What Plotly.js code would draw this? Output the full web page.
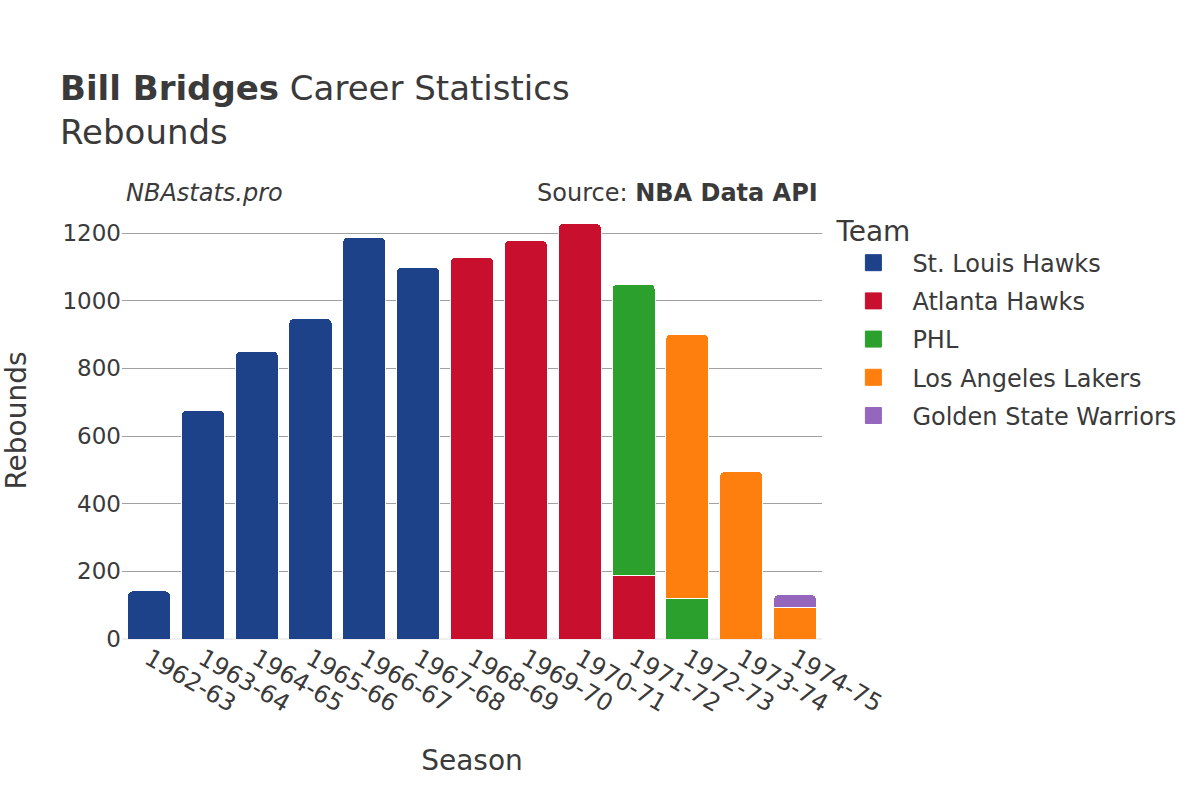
<!DOCTYPE html>
<html>
<head>
<meta charset="utf-8">
<script src="https://cdn.plot.ly/plotly-3.0.1.min.js"></script>
<style>html,body{margin:0;padding:0;background:#fff;}#chart{width:1200px;height:800px;}</style>
</head>
<body>
<div id="chart"></div>
<script>
const seasons = ["1962-63","1963-64","1964-65","1965-66","1966-67","1967-68","1968-69","1969-70","1970-71","1971-72","1972-73","1973-74","1974-75"];
const stlHawks = [142, 677, 851, 948, 1188, 1099, null, null, null, null, null, null, null];
const atlHawks = [null, null, null, null, null, null, 1128, 1178, 1229, 189, null, null, null];
const phl      = [null, null, null, null, null, null, null, null, null, 860, 121, null, null];
const lakers   = [null, null, null, null, null, null, null, null, null, null, 780, 495, 92];
const warriors = [null, null, null, null, null, null, null, null, null, null, null, null, 39];
const teamNames = ["St. Louis Hawks","Atlanta Hawks","PHL","Los Angeles Lakers","Golden State Warriors"];
const teamColors = ["#1d428a","#c8102e","#2ca02c","#ff7f0e","#9467bd"];
const teamValues = [stlHawks, atlHawks, phl, lakers, warriors];

const font = "DejaVu Sans, sans-serif";
const txt = "#3a3a3a";
const bars = teamNames.map((name, i) => ({
  type: "bar",
  name: name,
  legendgroup: name,
  showlegend: false,
  x: seasons,
  y: teamValues[i],
  marker: {color: teamColors[i], line: {color: "#ffffff", width: 1}},
  hovertemplate: "%{x}<br>%{y}<extra>" + name + "</extra>"
}));
// legend-only entries with larger square swatches
const legendEntries = teamNames.map((name, i) => ({
  type: "scatter",
  mode: "markers",
  name: name,
  legendgroup: name,
  x: [null], y: [null],
  marker: {symbol: "square", size: 21, color: teamColors[i], line: {color: teamColors[i], width: 1}},
  hoverinfo: "skip"
}));

const layout = {
  width: 1200, height: 800,
  barmode: "stack",
  bargap: 0.2,
  barcornerradius: 5,
  paper_bgcolor: "#fff", plot_bgcolor: "#fff",
  font: {family: font, color: txt, size: 20},
  margin: {l: 122, r: 378, t: 202, b: 161},
  title: {
    text: "<b>Bill Bridges</b> Career Statistics<br>Rebounds",
    x: 0.05, xanchor: "left", y: 0.875, yanchor: "top",
    font: {family: font, size: 34, color: txt}
  },
  xaxis: {
    title: {text: "Season", font: {size: 28, color: txt}, standoff: 33},
    tickangle: 30,
    tickfont: {size: 24, color: txt},
    showgrid: false,
    type: "category"
  },
  yaxis: {
    title: {text: "Rebounds", font: {size: 28, color: txt}, standoff: 30},
    tickfont: {size: 23, color: txt},
    gridcolor: "#a0a0a0",
    gridwidth: 1,
    zerolinecolor: "#eeeeee",
    zerolinewidth: 2,
    range: [0, 1292],
    dtick: 200
  },
  legend: {
    title: {text: "Team", font: {size: 28, color: txt}},
    font: {size: 24, color: txt},
    traceorder: "grouped",
    tracegroupgap: 4,
    x: 1.0177, xanchor: "left", y: 0.995, yanchor: "top",
    itemsizing: "trace",
    itemwidth: 68
  },
  annotations: [
    {text: "<i>NBAstats.pro</i>", xref: "paper", yref: "paper", x: 0, y: 1, xanchor: "left", yanchor: "bottom", yshift: -7, xshift: 2, showarrow: false, font: {size: 24, color: txt}},
    {text: "Source: <b>NBA Data API</b>", xref: "paper", yref: "paper", x: 1, y: 1, xanchor: "right", yanchor: "bottom", yshift: -7, xshift: -2, showarrow: false, font: {size: 24, color: txt}}
  ]
};

Plotly.newPlot("chart", bars.concat(legendEntries), layout, {displayModeBar: false});
</script>
</body>
</html>
